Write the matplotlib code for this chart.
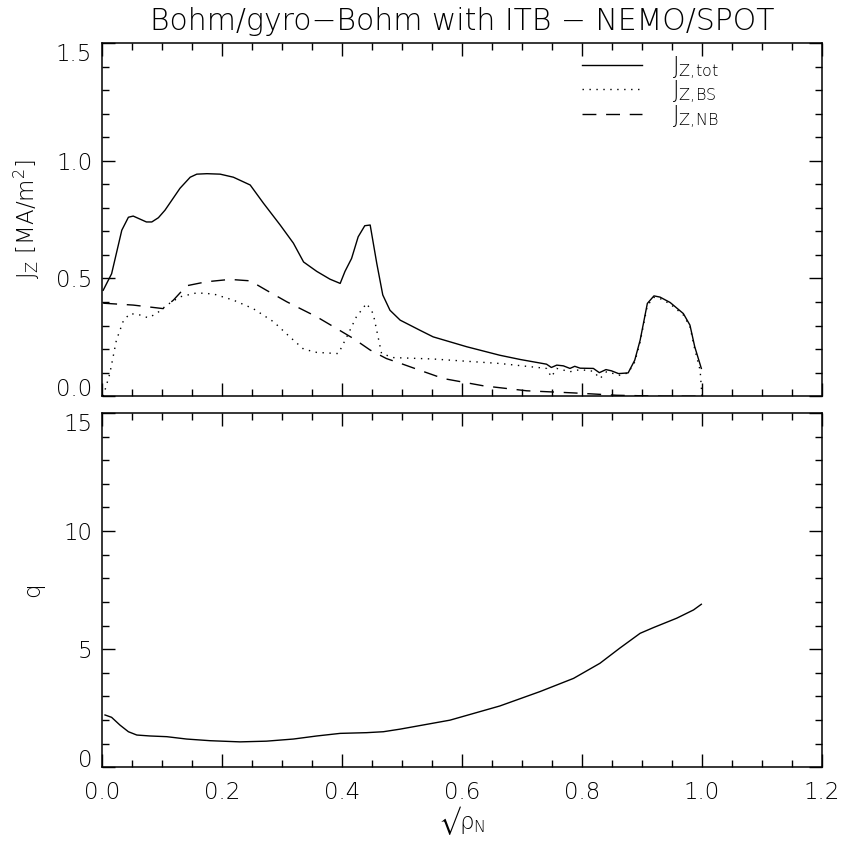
import matplotlib
matplotlib.use("Agg")
import matplotlib.pyplot as plt
from matplotlib.ticker import MultipleLocator

# --- current density profiles (top panel) ---
x_tot = [0.002, 0.016, 0.033, 0.044, 0.052, 0.074, 0.083, 0.094, 0.105, 0.13,
         0.147, 0.158, 0.175, 0.197, 0.219, 0.247, 0.269, 0.297, 0.319, 0.336,
         0.358, 0.38, 0.397, 0.405, 0.416, 0.427, 0.438, 0.447, 0.458, 0.468,
         0.48, 0.497, 0.53, 0.552, 0.608, 0.663, 0.697, 0.741, 0.749, 0.758,
         0.769, 0.78, 0.788, 0.797, 0.819, 0.829, 0.84, 0.849, 0.861, 0.877,
         0.888, 0.897, 0.909, 0.92, 0.93, 0.947, 0.969, 0.98, 0.988, 0.999]
j_tot = [0.45, 0.52, 0.705, 0.76, 0.765, 0.74, 0.74, 0.758, 0.79, 0.883,
         0.93, 0.943, 0.945, 0.943, 0.93, 0.897, 0.82, 0.727, 0.65, 0.57,
         0.53, 0.497, 0.479, 0.53, 0.585, 0.677, 0.724, 0.727, 0.564, 0.43,
         0.365, 0.323, 0.28, 0.252, 0.21, 0.174, 0.156, 0.136, 0.122, 0.132,
         0.129, 0.118, 0.127, 0.119, 0.118, 0.10, 0.113, 0.108, 0.096, 0.099,
         0.153, 0.238, 0.394, 0.426, 0.421, 0.398, 0.351, 0.302, 0.21, 0.118]

x_bs = [0.002, 0.013, 0.024, 0.036, 0.047, 0.063, 0.077, 0.091, 0.108, 0.13,
        0.158, 0.186, 0.219, 0.252, 0.286, 0.313, 0.336, 0.358, 0.394, 0.408,
        0.424, 0.441, 0.452, 0.466, 0.486, 0.552, 0.663, 0.741, 0.749, 0.758,
        0.78, 0.797, 0.819, 0.83, 0.841, 0.863, 0.877, 0.888, 0.897, 0.909,
        0.92, 0.93, 0.947, 0.969, 0.98, 0.988, 0.997, 1.0]
j_bs = [0.0, 0.096, 0.238, 0.323, 0.351, 0.345, 0.333, 0.351, 0.387, 0.422,
        0.439, 0.434, 0.408, 0.372, 0.316, 0.252, 0.2, 0.186, 0.181, 0.252,
        0.337, 0.394, 0.351, 0.181, 0.164, 0.158, 0.139, 0.118, 0.082, 0.118,
        0.104, 0.113, 0.106, 0.075, 0.104, 0.089, 0.099, 0.145, 0.23, 0.385,
        0.42, 0.415, 0.392, 0.345, 0.296, 0.2, 0.11, 0.0]

x_nb = [0.002, 0.052, 0.102, 0.119, 0.141, 0.174, 0.213, 0.247, 0.274, 0.308,
        0.358, 0.386, 0.419, 0.447, 0.474, 0.497, 0.53, 0.569, 0.636, 0.708,
        0.786, 0.858, 0.936, 1.0]
j_nb = [0.395, 0.387, 0.372, 0.408, 0.469, 0.486, 0.496, 0.49, 0.45, 0.401,
        0.337, 0.295, 0.245, 0.196, 0.16, 0.14, 0.11, 0.075, 0.044, 0.023,
        0.014, 0.004, 0.0, 0.0]

# --- safety factor (bottom panel) ---
x_q = [0.005, 0.016, 0.03, 0.044, 0.058, 0.08, 0.108, 0.141, 0.18, 0.23,
       0.274, 0.319, 0.358, 0.397, 0.441, 0.469, 0.497, 0.58, 0.663, 0.73,
       0.786, 0.83, 0.863, 0.897, 0.919, 0.958, 0.986, 0.999]
q = [2.21, 2.11, 1.78, 1.5, 1.36, 1.32, 1.29, 1.19, 1.12, 1.07,
     1.1, 1.19, 1.32, 1.43, 1.46, 1.5, 1.61, 1.99, 2.59, 3.2,
     3.76, 4.4, 5.04, 5.67, 5.91, 6.31, 6.66, 6.9]

labels = [r"$\mathrm{J_{Z{,}tot}}$", r"$\mathrm{J_{Z{,}BS}}$", r"$\mathrm{J_{Z{,}NB}}$"]
title = "Bohm/gyro\u2212Bohm with ITB \u2212 NEMO/SPOT"

FONT = "DejaVu Sans"
plt.rcParams["font.family"] = FONT
plt.rcParams["font.weight"] = "light"
plt.rcParams["axes.titleweight"] = "light"
plt.rcParams["axes.labelweight"] = "light"
plt.rcParams["mathtext.fontset"] = "custom"
plt.rcParams["mathtext.rm"] = FONT + ":light"
plt.rcParams["mathtext.it"] = FONT + ":light"
plt.rcParams["mathtext.fallback"] = "stixsans"
plt.rcParams["axes.linewidth"] = 1.1

FS = 16.5


def style_axis(ax, ymajor, yminor):
    ax.xaxis.set_major_locator(MultipleLocator(0.2))
    ax.xaxis.set_minor_locator(MultipleLocator(0.05))
    ax.yaxis.set_major_locator(MultipleLocator(ymajor))
    ax.yaxis.set_minor_locator(MultipleLocator(yminor))
    ax.tick_params(which="both", direction="in", top=True, right=True,
                   width=1.0, labelsize=FS)
    ax.tick_params(which="major", length=9.5)
    ax.tick_params(which="minor", length=5)
    ax.tick_params(axis="x", pad=10)
    ax.tick_params(axis="y", pad=7)


def clamp_end_labels(ax):
    # IDL keeps the end labels of the y axis inside the axis range
    lo, hi = ax.get_ylim()
    for t in ax.yaxis.get_major_ticks():
        if abs(t.get_loc() - lo) < 1e-9:
            t.label1.set_verticalalignment("baseline")
        elif abs(t.get_loc() - hi) < 1e-9:
            t.label1.set_verticalalignment("top")


fig = plt.figure(figsize=(8.43, 8.43), dpi=100)
ax1 = fig.add_axes([0.121, 0.530, 0.854, 0.419])
ax2 = fig.add_axes([0.121, 0.090, 0.854, 0.420])

ax1.plot(x_tot, j_tot, color="black", lw=1.0, label=labels[0])
ax1.plot(x_bs, j_bs, color="black", lw=1.0, ls=(0, (1, 4)), label=labels[1])
ax1.plot(x_nb, j_nb, color="black", lw=1.0, ls=(0, (10, 7)), label=labels[2])
ax1.set_xlim(0, 1.2)
ax1.set_ylim(0, 1.5)
style_axis(ax1, 0.5, 0.1)
ax1.yaxis.set_major_formatter(lambda v, p: f"{v:.1f}")
ax1.tick_params(labelbottom=False)
ax1.set_ylabel(r"$\mathrm{J_Z}$ [MA/m$^{2}$]", fontsize=FS, labelpad=10)
ax1.set_title(title, fontsize=21.5, pad=9)
ax1.legend(loc="upper left", bbox_to_anchor=(0.645, 1.015), frameon=False,
           fontsize=FS, handlelength=2.6, handletextpad=1.3,
           labelspacing=-0.1, borderaxespad=0.3)

ax2.plot(x_q, q, color="black", lw=1.0)
ax2.set_xlim(0, 1.2)
ax2.set_ylim(0, 15)
style_axis(ax2, 5, 1)
ax2.xaxis.set_major_formatter(lambda v, p: f"{v:.1f}")
ax2.set_ylabel("q", fontsize=FS, labelpad=14)
ax2.set_xlabel("$\u221a\\rho_{\\mathrm{N}}$", fontsize=FS, labelpad=0)

fig.canvas.draw()
clamp_end_labels(ax1)
clamp_end_labels(ax2)

fig.savefig("out.png", dpi=100, facecolor="white")
